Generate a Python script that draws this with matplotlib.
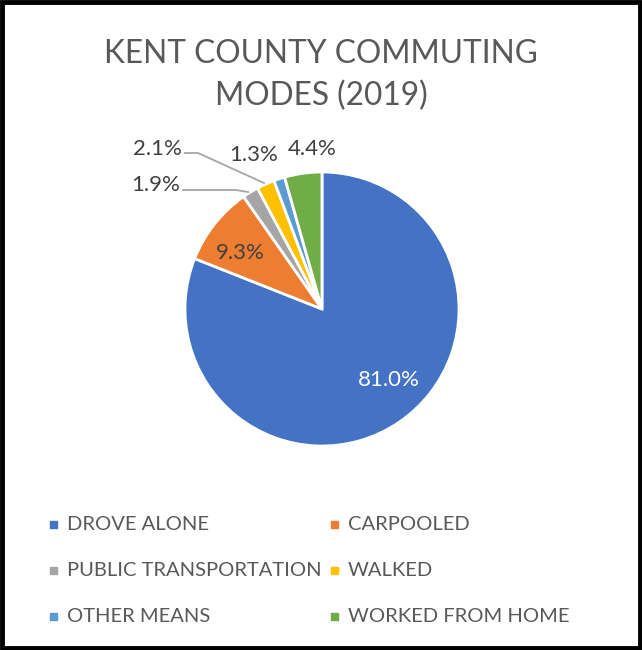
import matplotlib.pyplot as plt
from matplotlib.patches import Rectangle

W, H = 642, 650

modes = ["DROVE ALONE", "CARPOOLED", "PUBLIC TRANSPORTATION", "WALKED",
         "OTHER MEANS", "WORKED FROM HOME"]
shares = [81.0, 9.3, 1.9, 2.1, 1.3, 4.4]
colors = ["#4472C4", "#ED7D31", "#A5A5A5", "#FFC000", "#5B9BD5", "#70AD47"]

# label positions in image pixels (x, y from top)
label_pos = [(389, 380), (240, 253), (156, 185), (157, 149), (254, 155), (312, 149)]
label_col = ["white", "#404040", "#404040", "#404040", "#404040", "#404040"]

plt.rcParams["font.family"] = ["Lato", "DejaVu Sans"]
GREY = "#595959"


def py(y):
    return H - y


fig = plt.figure(figsize=(W / 100, H / 100), dpi=100)
ax = fig.add_axes([0, 0, 1, 1])

ax.pie(shares, colors=colors, startangle=90, counterclock=False,
       center=(322, py(309)), radius=137, frame=True,
       wedgeprops=dict(edgecolor="white", linewidth=2))
ax.set_xlim(0, W)
ax.set_ylim(0, H)
ax.set_aspect("equal")
ax.axis("off")

for (x, y), v, c in zip(label_pos, shares, label_col):
    ax.text(x, py(y), f"{v:.1f}%", ha="center", va="center", fontsize=16, color=c)

# leader lines for the small slices
ax.plot([185, 198, 264], [py(153), py(153), py(183)], color="#A6A6A6", lw=1.3)
ax.plot([183, 236, 248], [py(190), py(190), py(192)], color="#A6A6A6", lw=1.3)

fig.text(0.5, py(54) / H, "KENT COUNTY COMMUTING", ha="center", va="center",
         fontsize=22.8, color=GREY)
fig.text(0.5, py(96) / H, "MODES (2019)", ha="center", va="center",
         fontsize=22.8, color=GREY)

# legend
leg_x = [53, 334]
leg_y = [524, 570, 616]
for i, (name, c) in enumerate(zip(modes, colors)):
    lx = leg_x[i % 2]
    ly = leg_y[i // 2]
    ax.add_patch(Rectangle((lx - 3.5, py(ly) - 3.5), 7, 7, color=c))
    ax.text(lx + 14, py(ly + 1), name, ha="left", va="center", fontsize=14.5, color=GREY)

# outer frame
ax.add_patch(Rectangle((2, 2), W - 4, H - 4, fill=False, edgecolor="black",
                       linewidth=3.5, clip_on=False))

fig.savefig("out.png", dpi=100)
